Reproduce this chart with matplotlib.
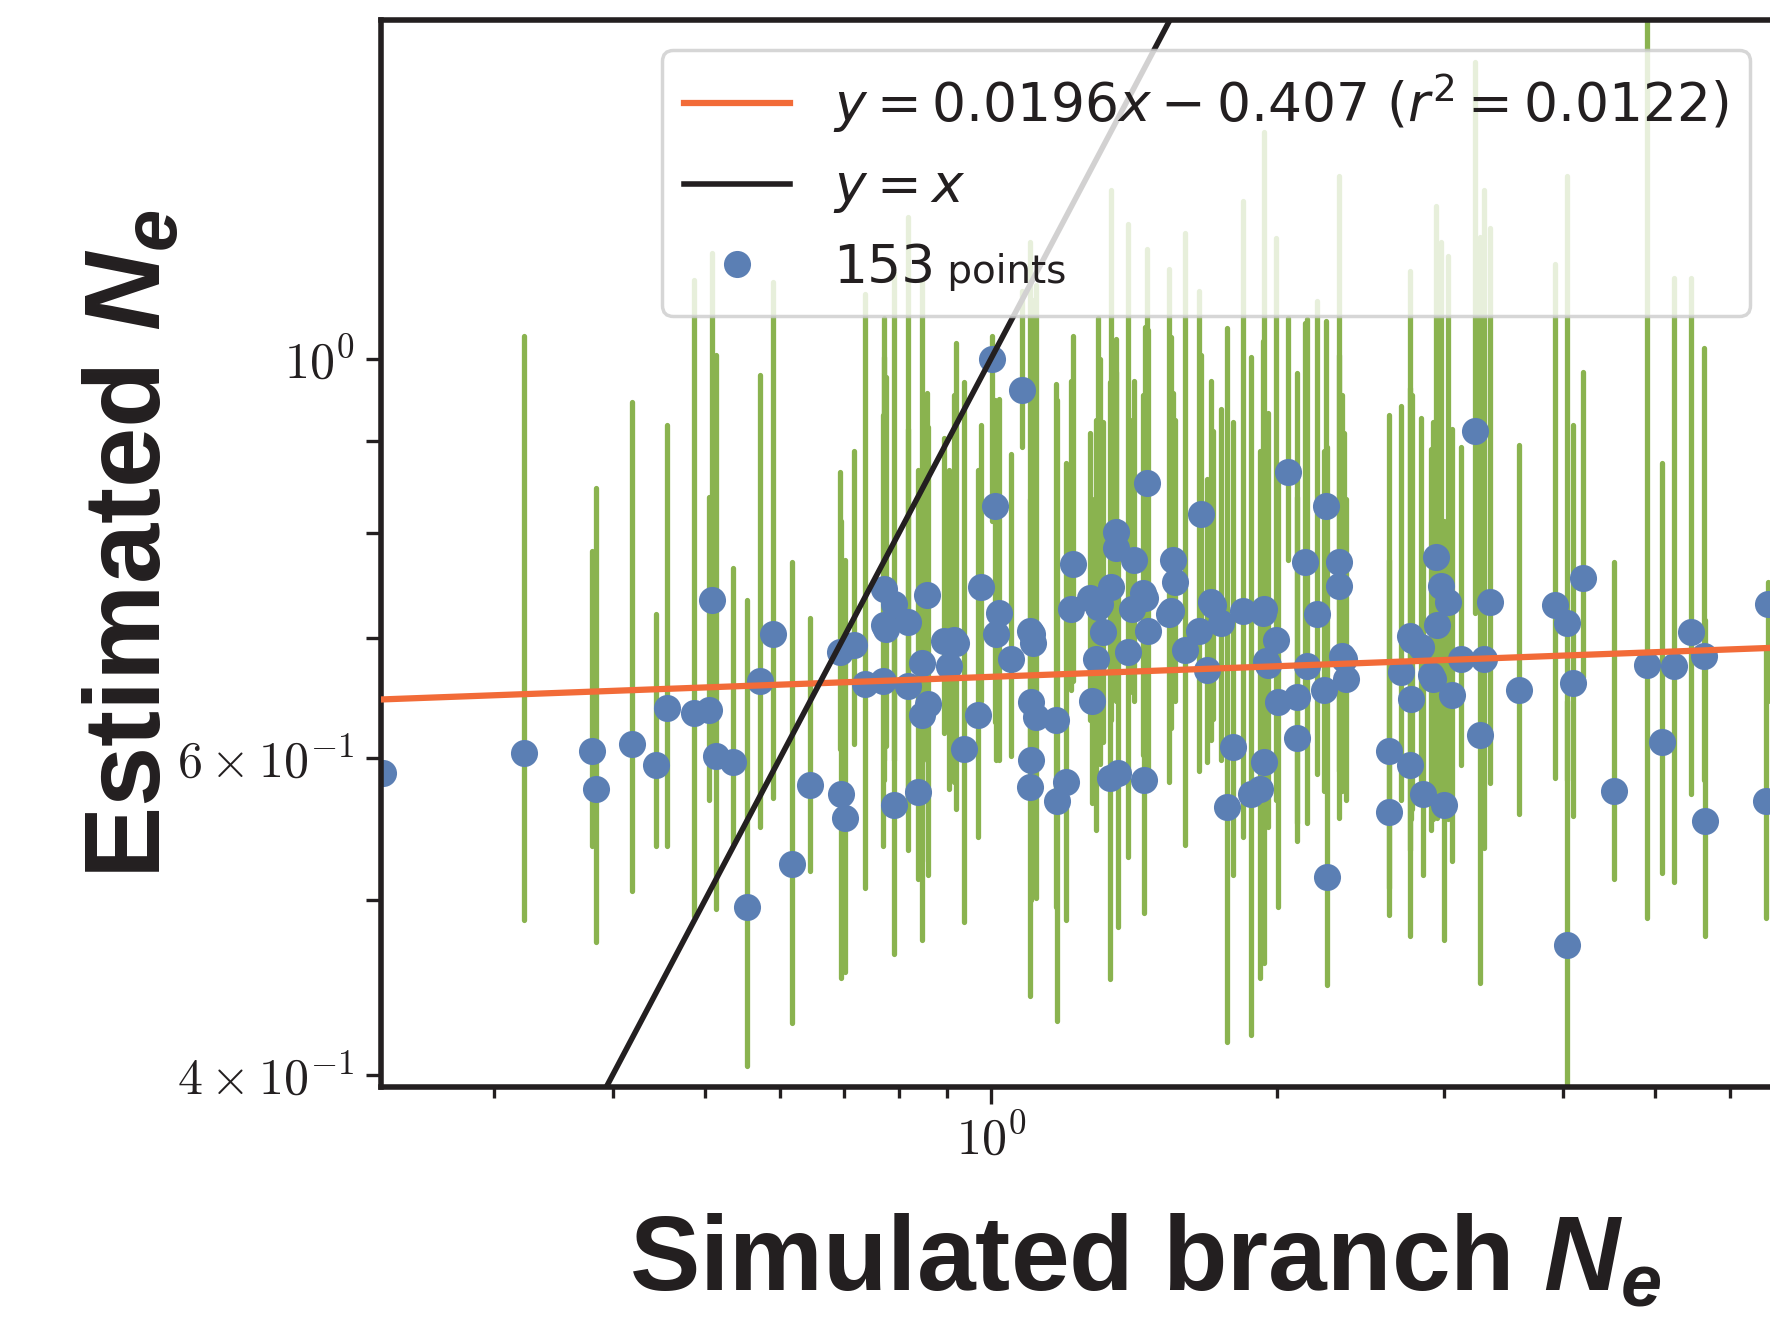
import numpy as np
import matplotlib
matplotlib.use('Agg')
import matplotlib.pyplot as plt
from matplotlib.ticker import LogFormatterSciNotation
from matplotlib.offsetbox import TextArea, HPacker

# ── Style ─────────────────────────────────────────────────────────────────────
plt.rcParams['font.family'] = 'Liberation Sans'
plt.rcParams['mathtext.fontset'] = 'cm'          # tick labels in Computer Modern
plt.rcParams['mathtext.rm'] = 'Liberation Sans'  # 'custom' set for axis labels
plt.rcParams['mathtext.it'] = 'Liberation Sans:italic'
plt.rcParams['mathtext.bf'] = 'Liberation Sans:bold'
plt.rcParams['mathtext.bfit'] = 'Liberation Sans:italic:bold'

DARK   = '#231f20'
BLUE   = '#5b7fb4'
GREEN  = '#8ab34f'
ORANGE = '#f26b38'

# ── Data (log10 values) ───────────────────────────────────────────────────────
log_sim = [
    -0.640, -0.491, -0.420, -0.416, -0.378, -0.353, -0.341, -0.313, -0.297, -0.294,
    -0.289, -0.272, -0.257, -0.243, -0.229, -0.209, -0.190, -0.159, -0.158, -0.154,
    -0.144, -0.133, -0.112, -0.112, -0.114, -0.102, -0.102, -0.087, -0.087, -0.077,
    -0.073, -0.072, -0.067, -0.066, -0.049, -0.044, -0.037, -0.028, -0.014, -0.010,
    0.001, 0.004, 0.005, 0.009, 0.021, 0.033, 0.041, 0.041, 0.042, 0.042,
    0.044, 0.048, 0.069, 0.070, 0.079, 0.084, 0.086, 0.104, 0.107, 0.111,
    0.113, 0.118, 0.125, 0.127, 0.132, 0.132, 0.134, 0.144, 0.149, 0.151,
    0.161, 0.162, 0.164, 0.165, 0.190, 0.192, 0.194, 0.204, 0.219, 0.221,
    0.228, 0.232, 0.242, 0.249, 0.255, 0.265, 0.274, 0.283, 0.288, 0.288,
    0.290, 0.300, 0.302, 0.313, 0.322, 0.322, 0.331, 0.333, 0.343, 0.351,
    0.353, 0.354, 0.367, 0.367, 0.372, 0.374, 0.419, 0.419, 0.432, 0.441,
    0.441, 0.442, 0.453, 0.455, 0.465, 0.469, 0.470, 0.474, 0.477, 0.481,
    0.486, 0.495, 0.510, 0.515, 0.519, 0.525, 0.556, 0.594, 0.607, 0.607,
    0.613, 0.623, 0.656, 0.691, 0.707, 0.719, 0.737, 0.751, 0.752, 0.816,
    0.818, 0.160, 0.188, 0.234, 0.286, 0.043, 0.115, 0.443, 0.463, -0.110,
    -0.039, 0.292, 0.370,
]
log_est = [
    -0.230, -0.219, -0.218, -0.239, -0.214, -0.226, -0.194, -0.197, -0.195, -0.134,
    -0.221, -0.224, -0.305, -0.179, -0.153, -0.281, -0.237, -0.163, -0.242, -0.255,
    -0.159, -0.181, -0.128, -0.148, -0.179, -0.136, -0.248, -0.146, -0.182, -0.241,
    -0.198, -0.169, -0.131, -0.192, -0.157, -0.171, -0.158, -0.217, -0.198, -0.127,
    0.000, -0.082, -0.153, -0.141, -0.167, -0.017, -0.151, -0.238, -0.191, -0.223,
    -0.158, -0.199, -0.201, -0.246, -0.235, -0.139, -0.114, -0.133, -0.190, -0.167,
    -0.138, -0.152, -0.233, -0.127, -0.096, -0.105, -0.230, -0.163, -0.139, -0.112,
    -0.234, -0.133, -0.069, -0.151, -0.140, -0.112, -0.124, -0.162, -0.151, -0.086,
    -0.173, -0.135, -0.147, -0.249, -0.216, -0.140, -0.242, -0.239, -0.139, -0.224,
    -0.168, -0.156, -0.191, -0.063, -0.188, -0.211, -0.113, -0.171, -0.142, -0.184,
    -0.082, -0.288, -0.126, -0.113, -0.167, -0.178, -0.218, -0.252, -0.174, -0.154,
    -0.226, -0.189, -0.160, -0.242, -0.178, -0.110, -0.148, -0.126, -0.248, -0.135,
    -0.187, -0.167, -0.040, -0.209, -0.167, -0.135, -0.184, -0.137, -0.147, -0.326,
    -0.180, -0.122, -0.240, -0.170, -0.213, -0.171, -0.152, -0.165, -0.257, -0.246,
    -0.136, -0.130, -0.142, -0.137, -0.141, -0.153, -0.136, -0.156, -0.176, -0.150,
    -0.156, -0.170, -0.165,
]
log_hi = [
    -0.230, 0.013, -0.107, -0.072, -0.024, -0.142, -0.037, 0.044, -0.077, 0.059,
    0.002, -0.116, -0.134, -0.009, 0.043, -0.113, -0.144, -0.063, -0.090, -0.112,
    -0.051, 0.036, 0.023, 0.001, -0.031, 0.048, -0.134, 0.079, -0.039, -0.062,
    -0.078, 0.044, -0.019, -0.038, -0.044, -0.062, 0.009, -0.013, -0.062, -0.037,
    0.013, -0.023, -0.056, -0.022, -0.053, 0.038, 0.065, -0.078, -0.023, -0.051,
    0.033, 0.041, -0.014, -0.023, -0.058, -0.012, 0.013, -0.041, -0.078, -0.034,
    0.023, -0.035, -0.013, 0.094, -0.007, 0.011, -0.090, 0.075, -0.034, -0.012,
    -0.078, 0.018, 0.061, 0.016, 0.012, -0.019, -0.034, 0.070, 0.038, 0.002,
    -0.067, -0.012, -0.028, 0.017, -0.035, 0.088, 0.001, -0.051, 0.126, -0.056,
    -0.034, 0.067, -0.067, 0.023, -0.008, -0.077, 0.020, 0.022, 0.032, -0.051,
    0.021, -0.049, 0.102, 0.002, -0.041, -0.078, -0.031, -0.112, -0.026, 0.049,
    -0.016, -0.078, -0.033, -0.112, -0.035, 0.085, -0.023, 0.065, -0.090, 0.057,
    -0.039, -0.049, 0.165, 0.068, 0.094, 0.073, -0.048, 0.053, 0.102, -0.190,
    -0.037, -0.007, -0.113, 0.200, -0.058, 0.045, 0.045, 0.006, -0.145, -0.162,
    -0.124, -0.020, 0.050, -0.040, 0.010, -0.030, 0.000, -0.020, -0.050, -0.010,
    -0.020, -0.030, -0.020,
]
log_lo = [
    -0.230, -0.312, -0.271, -0.324, -0.296, -0.271, -0.271, -0.310, -0.245, -0.216,
    -0.306, -0.269, -0.393, -0.260, -0.244, -0.369, -0.285, -0.217, -0.344, -0.341,
    -0.214, -0.294, -0.234, -0.223, -0.271, -0.223, -0.331, -0.245, -0.273, -0.289,
    -0.279, -0.323, -0.223, -0.287, -0.208, -0.239, -0.250, -0.313, -0.266, -0.190,
    -0.090, -0.202, -0.223, -0.223, -0.221, -0.049, -0.223, -0.354, -0.273, -0.301,
    -0.245, -0.300, -0.305, -0.368, -0.312, -0.184, -0.179, -0.201, -0.247, -0.262,
    -0.212, -0.213, -0.345, -0.201, -0.162, -0.190, -0.316, -0.277, -0.185, -0.190,
    -0.308, -0.201, -0.123, -0.229, -0.205, -0.179, -0.190, -0.270, -0.229, -0.156,
    -0.224, -0.212, -0.223, -0.380, -0.287, -0.266, -0.376, -0.344, -0.223, -0.336,
    -0.256, -0.245, -0.305, -0.112, -0.268, -0.258, -0.190, -0.258, -0.231, -0.240,
    -0.145, -0.348, -0.229, -0.255, -0.233, -0.245, -0.309, -0.294, -0.245, -0.273,
    -0.321, -0.256, -0.245, -0.287, -0.256, -0.234, -0.255, -0.245, -0.323, -0.256,
    -0.279, -0.226, -0.141, -0.347, -0.272, -0.236, -0.253, -0.233, -0.234, -0.412,
    -0.254, -0.177, -0.289, -0.311, -0.286, -0.291, -0.242, -0.234, -0.321, -0.311,
    -0.190, -0.220, -0.235, -0.200, -0.245, -0.240, -0.225, -0.250, -0.262, -0.215,
    -0.235, -0.260, -0.240,
]

# regression shown in the legend (natural-log fit)
fit_slope = 0.0196
fit_intercept = -0.407
fit_r2 = 0.0122

sim_ne = 10 ** np.array(log_sim)
est_ne = 10 ** np.array(log_est)
est_hi = 10 ** np.array(log_hi)
est_lo = 10 ** np.array(log_lo)

XLIM = (0.228, 7.11)
YLIM = (0.3937, 1.5434)


class CMLogFormatter(LogFormatterSciNotation):
    """Log formatter whose labels are typeset in the math (cm) font."""
    def __call__(self, x, pos=None):
        return super().__call__(x, pos).replace(r'\mathdefault', '')


def main():
    W, H = 1770, 1329
    fig = plt.figure(figsize=(W / 100, H / 100), dpi=100)
    # axes run past the right edge of the picture, as in the reference crop
    left, right, bottom, top = 381, 1800, 1087, 20
    ax = fig.add_axes([left / W, 1 - bottom / H, (right - left) / W, (bottom - top) / H])

    ax.set_xscale('log')
    ax.set_yscale('log')
    ax.set_xlim(*XLIM)
    ax.set_ylim(*YLIM)

    # error bars under the points
    ax.vlines(sim_ne, est_lo, est_hi, colors=GREEN, linewidth=3.8,
              capstyle='round', zorder=2)
    pts, = ax.plot(sim_ne, est_ne, 'o', color=BLUE, ms=19.5, mew=0, zorder=2.5)

    xx = np.geomspace(XLIM[0], XLIM[1], 200)
    fit_line, = ax.plot(xx, np.exp(fit_intercept) * xx ** fit_slope,
                        color=ORANGE, lw=4.5, zorder=3)
    diag_line, = ax.plot(xx, xx, color=DARK, lw=4, zorder=3)

    # ticks
    for axis in (ax.xaxis, ax.yaxis):
        axis.set_major_formatter(CMLogFormatter())
        axis.set_minor_formatter(CMLogFormatter(labelOnlyBase=False))
    ax.tick_params(which='both', direction='out', width=2.4, color=DARK,
                   labelcolor=DARK, labelsize=36, pad=8)
    ax.tick_params(axis='x', which='major', length=12)
    ax.tick_params(axis='x', which='minor', length=8)
    ax.tick_params(axis='y', which='both', length=11)

    for side in ('left', 'bottom', 'top', 'right'):
        ax.spines[side].set_linewidth(4)
        ax.spines[side].set_color(DARK)

    # axis labels
    ax.set_xlabel(r'Simulated branch $\mathbfit{N}_\mathbfit{e}$', fontsize=76,
                  fontweight='bold', color=DARK, math_fontfamily='custom')
    ax.set_ylabel(r'Estimated $\mathbfit{N}_\mathbfit{e}$', fontsize=78,
                  fontweight='bold', color=DARK, math_fontfamily='custom')
    ax.xaxis.set_label_coords(0.5384, -0.119)
    ax.yaxis.set_label_coords(-0.1395, 0.509)

    # legend
    labels = [
        rf'$y = {fit_slope}x - {abs(fit_intercept)}\ (r^2 = {fit_r2})$',
        r'$y = x$',
        f'{len(log_sim)}',
    ]
    leg = ax.legend([fit_line, diag_line, pts], labels, loc='upper right',
                    bbox_to_anchor=(0.9648, 0.9719), borderaxespad=0,
                    framealpha=0.8, numpoints=1,
                    prop=dict(family='DejaVu Sans', size=38.5))
    for t in leg.get_texts():
        t.set_math_fontfamily('dejavusans')
        t.set_color(DARK)
    leg.get_frame().set_linewidth(2.5)

    # smaller "points" word after the count
    column = leg._legend_handle_box.get_children()[0]
    item = column.get_children()[2]
    count_box = item.get_children()[1]
    word = TextArea(' points', textprops=dict(fontsize=28, color=DARK,
                                              family='DejaVu Sans'))
    pack = HPacker(children=[count_box, word], pad=0, sep=0, align='baseline')
    item.get_children()[1] = pack
    leg._legend_box.set_figure(fig)

    fig.savefig('out.png', dpi=100)
    plt.close(fig)


if __name__ == '__main__':
    main()
